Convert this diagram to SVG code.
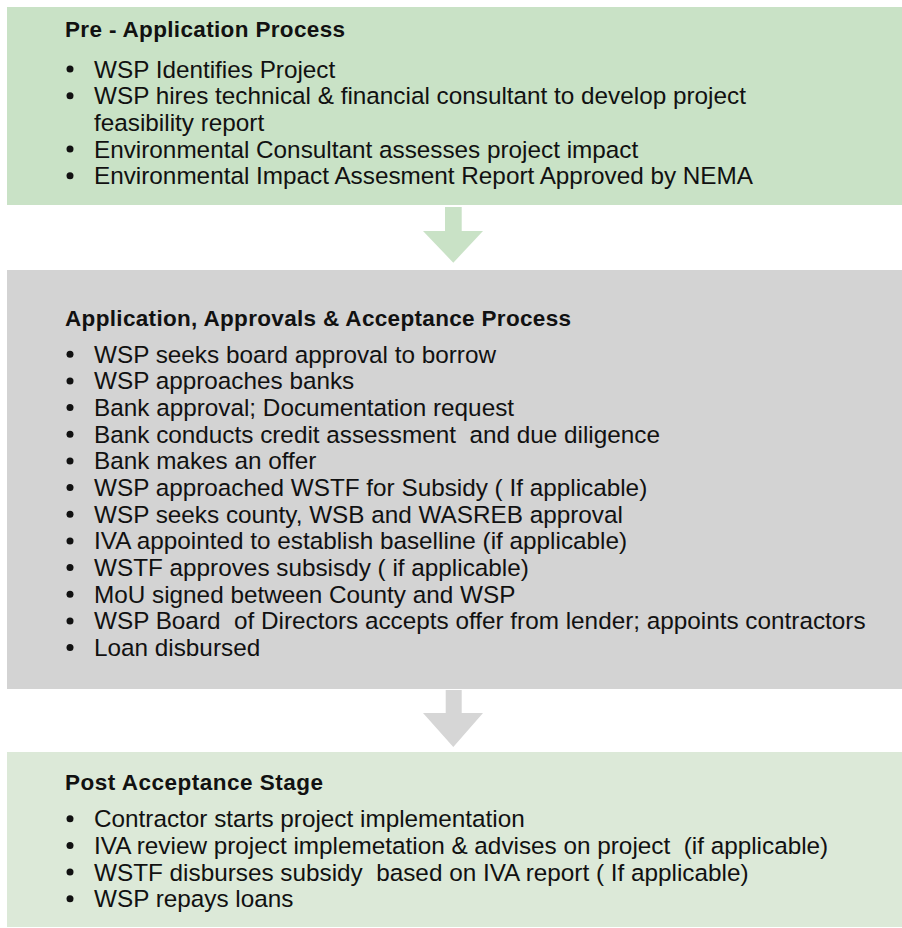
<svg xmlns="http://www.w3.org/2000/svg" width="902" height="928" viewBox="0 0 902 928">
<style>
.h{font-family:"Liberation Sans",Arial,sans-serif;font-weight:bold;font-size:22.5px;fill:#111}
.t{font-family:"Liberation Sans",Arial,sans-serif;font-size:24.3px;fill:#111}
.b{fill:#111}
</style>
<rect width="902" height="928" fill="#ffffff"/>
<g id="connectors">
<polygon points="445,207 461.7,207 461.7,231 483,231 453.3,262.7 423,231 445,231" fill="#c9e2c6"/>
<polygon points="445.7,690 461.7,690 461.7,713 483,713 453.3,747 423,713 445.7,713" fill="#d6d6d6"/>
</g>
<g id="pre-application">
<rect x="7" y="7" width="895" height="198" fill="#c9e2c6"/>
<text class="h" x="65" y="36.5" textLength="280" lengthAdjust="spacing">Pre - Application Process</text>
<circle class="b" cx="70" cy="69" r="3.5"/><text class="t" x="94" y="77.5">WSP Identifies Project</text>
<circle class="b" cx="70" cy="95.7" r="3.5"/><text class="t" x="94" y="104.2">WSP hires technical &amp; financial consultant to develop project</text>
<text class="t" x="94" y="130.9">feasibility report</text>
<circle class="b" cx="70" cy="149.1" r="3.5"/><text class="t" x="94" y="157.6">Environmental Consultant assesses project impact</text>
<circle class="b" cx="70" cy="175.8" r="3.5"/><text class="t" x="94" y="184.3">Environmental Impact Assesment Report Approved by NEMA</text>
</g>
<g id="application">
<rect x="7" y="270" width="895" height="419" fill="#d3d3d3"/>
<text class="h" x="65" y="325.5" textLength="506" lengthAdjust="spacing">Application, Approvals &amp; Acceptance Process</text>
<circle class="b" cx="70" cy="354.2" r="3.5"/><text class="t" x="94" y="362.7">WSP seeks board approval to borrow</text>
<circle class="b" cx="70" cy="380.9" r="3.5"/><text class="t" x="94" y="389.4">WSP approaches banks</text>
<circle class="b" cx="70" cy="407.5" r="3.5"/><text class="t" x="94" y="416">Bank approval; Documentation request</text>
<circle class="b" cx="70" cy="434.2" r="3.5"/><text class="t" x="94" y="442.7" xml:space="preserve">Bank conducts credit assessment  and due diligence</text>
<circle class="b" cx="70" cy="460.9" r="3.5"/><text class="t" x="94" y="469.4">Bank makes an offer</text>
<circle class="b" cx="70" cy="487.5" r="3.5"/><text class="t" x="94" y="496">WSP approached WSTF for Subsidy ( If applicable)</text>
<circle class="b" cx="70" cy="514.2" r="3.5"/><text class="t" x="94" y="522.7">WSP seeks county, WSB and WASREB approval</text>
<circle class="b" cx="70" cy="540.9" r="3.5"/><text class="t" x="94" y="549.4">IVA appointed to establish baselline (if applicable)</text>
<circle class="b" cx="70" cy="567.5" r="3.5"/><text class="t" x="94" y="576">WSTF approves subsisdy ( if applicable)</text>
<circle class="b" cx="70" cy="594.2" r="3.5"/><text class="t" x="94" y="602.7">MoU signed between County and WSP</text>
<circle class="b" cx="70" cy="620.9" r="3.5"/><text class="t" x="94" y="629.4" xml:space="preserve">WSP Board  of Directors accepts offer from lender; appoints contractors</text>
<circle class="b" cx="70" cy="647.5" r="3.5"/><text class="t" x="94" y="656">Loan disbursed</text>
</g>
<g id="post-acceptance">
<rect x="7" y="752" width="895" height="175" fill="#dce9d8"/>
<text class="h" x="65" y="790" textLength="258" lengthAdjust="spacing">Post Acceptance Stage</text>
<circle class="b" cx="70" cy="818.8" r="3.5"/><text class="t" x="94" y="827.3">Contractor starts project implementation</text>
<circle class="b" cx="70" cy="845.5" r="3.5"/><text class="t" x="94" y="854" xml:space="preserve">IVA review project implemetation &amp; advises on project  (if applicable)</text>
<circle class="b" cx="70" cy="872.1" r="3.5"/><text class="t" x="94" y="880.6" xml:space="preserve">WSTF disburses subsidy  based on IVA report ( If applicable)</text>
<circle class="b" cx="70" cy="898.8" r="3.5"/><text class="t" x="94" y="907.3">WSP repays loans</text>
</g>
</svg>
